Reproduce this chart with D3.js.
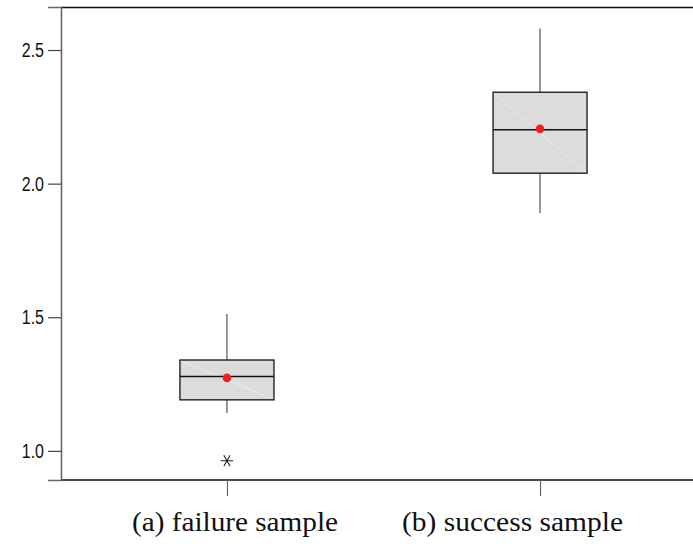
<!DOCTYPE html>
<html>
<head>
<meta charset="utf-8">
<script src="https://cdn.jsdelivr.net/npm/d3@7"></script>
<style>
  html, body { margin: 0; padding: 0; background: #fff; }
  svg { display: block; }
</style>
</head>
<body>
<svg id="chart" width="693" height="544"></svg>
<script>
// ---- data ----
const categories = ["(a) failure sample", "(b) success sample"];
const whiskerLow  = [1.142, 1.889];
const q1          = [1.191, 2.039];
const medians     = [1.278, 2.202];
const q3          = [1.340, 2.342];
const whiskerHigh = [1.512, 2.581];
const means       = [1.273, 2.205];
const outliers    = [[0.963], []];
const yTicks      = [1.0, 1.5, 2.0, 2.5];

// ---- layout ----
const svg = d3.select("#chart");
const plotLeft = 61, plotRight = 706, plotTop = 7, plotBottom = 480;

const y = d3.scaleLinear().domain([0.891, 2.661]).range([plotBottom, plotTop]);
const x = d3.scalePoint().domain(categories).range([plotLeft, plotRight]).padding(0.53);
const boxHalf = 47;

// frame: top & bottom borders
svg.append("line").attr("x1", plotLeft).attr("x2", 693).attr("y1", plotTop + 0.5).attr("y2", plotTop + 0.5)
  .attr("stroke", "#111").attr("stroke-width", 1.6);
svg.append("line").attr("x1", plotLeft).attr("x2", 693).attr("y1", plotBottom).attr("y2", plotBottom)
  .attr("stroke", "#111").attr("stroke-width", 1.6);

// y axis
const yAxis = svg.append("g").attr("transform", `translate(${plotLeft},0)`)
  .call(d3.axisLeft(y).tickValues(yTicks).tickFormat(d3.format(".1f")).tickSize(13).tickPadding(4));
yAxis.select(".domain").attr("stroke", "#666").attr("stroke-width", 1.6);
yAxis.selectAll(".tick line").attr("stroke", "#444").attr("stroke-width", 1.2);
const sx = 0.8;
yAxis.selectAll(".tick text")
  .attr("font-family", "'Liberation Sans', Arial, sans-serif")
  .attr("font-size", 20)
  .attr("fill", "#111")
  .attr("x", -17 / sx)
  .attr("transform", `scale(${sx},1)`);

// x axis ticks (labels drawn separately below)
const xAxis = svg.append("g").attr("transform", `translate(0,${plotBottom})`)
  .call(d3.axisBottom(x).tickSize(16).tickFormat(""));
xAxis.select(".domain").remove();
xAxis.selectAll(".tick line").attr("stroke", "#555").attr("stroke-width", 1);

// x labels
const labelX = [132, 402];
svg.selectAll("text.xlab").data(categories).join("text")
  .attr("class", "xlab")
  .attr("x", (d, i) => labelX[i])
  .attr("y", 531)
  .attr("font-family", "'Liberation Serif', 'Times New Roman', serif")
  .attr("font-size", 27)
  .attr("fill", "#111")
  .attr("textLength", (d, i) => i === 0 ? 206 : 221)
  .attr("lengthAdjust", "spacingAndGlyphs")
  .text(d => d);

// boxes
const g = svg.append("g");
categories.forEach((c, i) => {
  const cx = x(c);
  // whiskers
  g.append("line").attr("x1", cx).attr("x2", cx).attr("y1", y(whiskerHigh[i])).attr("y2", y(q3[i]))
    .attr("stroke", "#555").attr("stroke-width", 1.2);
  g.append("line").attr("x1", cx).attr("x2", cx).attr("y1", y(q1[i])).attr("y2", y(whiskerLow[i]))
    .attr("stroke", "#555").attr("stroke-width", 1.2);
  // box
  g.append("rect")
    .attr("x", cx - boxHalf).attr("width", boxHalf * 2)
    .attr("y", y(q3[i])).attr("height", y(q1[i]) - y(q3[i]))
    .attr("fill", "#dcdcdc").attr("stroke", "#222").attr("stroke-width", 1.4);
  // faint diagonal artifact
  g.append("line")
    .attr("x1", cx - boxHalf + 1).attr("y1", y(q3[i]) + 1)
    .attr("x2", cx + boxHalf - 1).attr("y2", y(q1[i]) - 1)
    .attr("stroke", "#fff").attr("stroke-opacity", 0.55).attr("stroke-width", 0.8);
  // median
  g.append("line").attr("x1", cx - boxHalf).attr("x2", cx + boxHalf)
    .attr("y1", y(medians[i])).attr("y2", y(medians[i]))
    .attr("stroke", "#111").attr("stroke-width", 1.5);
  // mean
  g.append("circle").attr("cx", cx).attr("cy", y(means[i])).attr("r", 4.3)
    .attr("fill", "#ee2020");
  // outliers
  outliers[i].forEach(v => {
    g.append("path")
      .attr("transform", `translate(${cx},${y(v)}) rotate(90)`)
      .attr("d", d3.symbol(d3.symbolAsterisk, 110)())
      .attr("fill", "none").attr("stroke", "#222").attr("stroke-width", 1.1);
  });
});
</script>
</body>
</html>
